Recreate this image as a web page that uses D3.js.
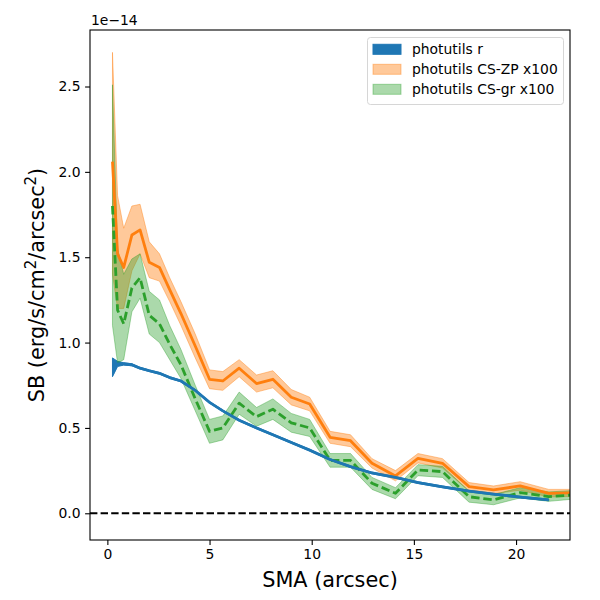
<!DOCTYPE html>
<html>
<head>
<meta charset="utf-8">
<script src="https://cdn.jsdelivr.net/npm/d3@7"></script>
<style>
  body { margin: 0; background: #fff; }
  svg { font-family: "DejaVu Sans", sans-serif; }
</style>
</head>
<body>
<svg id="chart"></svg>
<script>
//------------------------------------------------------------
// Data (SB in units of 1e-14)
const sma = [0.25, 0.5, 0.8, 1.2, 1.6, 2.05, 2.55, 3.05, 3.6, 4.3, 5.0, 5.65, 6.45, 7.3, 8.1, 9.0, 9.9,
  10.9, 11.9, 12.95, 14.1, 15.2, 16.4, 17.7, 18.9, 20.2, 21.6, 23.0];

const rLine = [0.86, 0.875, 0.875, 0.87, 0.85, 0.835, 0.82, 0.795, 0.775, 0.72, 0.65, 0.60, 0.545, 0.50, 0.46, 0.415, 0.37,
  0.315, 0.273, 0.236, 0.21, 0.18, 0.155, 0.13, 0.112, 0.095, 0.078];
const rLow = [0.80, 0.86, 0.868, 0.864, 0.845, 0.83, 0.815, 0.79, 0.77, 0.715, 0.645, 0.595, 0.54, 0.495, 0.455, 0.41, 0.365,
  0.31, 0.268, 0.231, 0.205, 0.175, 0.15, 0.125, 0.107, 0.09, 0.073];
const rHigh = [0.91, 0.89, 0.882, 0.876, 0.855, 0.84, 0.825, 0.80, 0.78, 0.725, 0.655, 0.605, 0.55, 0.505, 0.465, 0.42, 0.375,
  0.32, 0.278, 0.241, 0.215, 0.185, 0.16, 0.135, 0.117, 0.10, 0.083];

const zpLine = [2.06, 1.52, 1.44, 1.63, 1.66, 1.47, 1.44, 1.31, 1.17, 0.98, 0.785, 0.775, 0.85, 0.76, 0.785, 0.68, 0.64,
  0.445, 0.425, 0.293, 0.219, 0.322, 0.293, 0.156, 0.137, 0.16, 0.117, 0.12];
const zpLow = [1.40, 1.20, 1.20, 1.42, 1.52, 1.38, 1.36, 1.24, 1.10, 0.91, 0.73, 0.72, 0.80, 0.71, 0.735, 0.635, 0.60,
  0.41, 0.39, 0.265, 0.19, 0.295, 0.265, 0.13, 0.115, 0.135, 0.095, 0.10];
const zpHigh = [2.70, 1.86, 1.67, 1.80, 1.81, 1.59, 1.52, 1.38, 1.24, 1.05, 0.84, 0.83, 0.90, 0.81, 0.835, 0.725, 0.68,
  0.48, 0.46, 0.32, 0.25, 0.35, 0.32, 0.18, 0.16, 0.185, 0.14, 0.14];

const grLine = [1.80, 1.19, 1.11, 1.32, 1.38, 1.16, 1.11, 0.99, 0.87, 0.67, 0.48, 0.50, 0.645, 0.566, 0.61, 0.53, 0.50,
  0.31, 0.31, 0.176, 0.117, 0.254, 0.244, 0.097, 0.078, 0.121, 0.097, 0.11];
const grLow = [1.10, 0.88, 0.90, 1.18, 1.26, 1.05, 1.00, 0.90, 0.79, 0.60, 0.41, 0.43, 0.58, 0.51, 0.55, 0.475, 0.45,
  0.27, 0.27, 0.14, 0.085, 0.22, 0.21, 0.065, 0.05, 0.09, 0.07, 0.085];
const grHigh = [2.51, 1.55, 1.40, 1.49, 1.52, 1.30, 1.25, 1.10, 0.96, 0.75, 0.55, 0.57, 0.71, 0.62, 0.67, 0.585, 0.55,
  0.35, 0.35, 0.21, 0.15, 0.285, 0.275, 0.13, 0.11, 0.15, 0.125, 0.135];

const xTicks = [0, 5, 10, 15, 20];
const yTicks = [0.0, 0.5, 1.0, 1.5, 2.0, 2.5];

//------------------------------------------------------------
// Chart setup
const W = 600, H = 600;
const plot = { left: 90, right: 570, top: 30, bottom: 540 };

const svg = d3.select("#chart").attr("width", W).attr("height", H);

const x = d3.scaleLinear().domain([-0.85, 22.64]).range([plot.left, plot.right]);
const y = d3.scaleLinear().domain([-0.1565, 2.831]).range([plot.bottom, plot.top]);

svg.append("defs").append("clipPath").attr("id", "clip")
  .append("rect")
  .attr("x", plot.left).attr("y", plot.top)
  .attr("width", plot.right - plot.left).attr("height", plot.bottom - plot.top);

const g = svg.append("g").attr("clip-path", "url(#clip)");

function rows(line, low, high) {
  return line.map((v, i) => ({ x: sma[i], v, lo: low[i], hi: high[i] }));
}
const series = [
  { name: "photutils r", color: "#1f77b4", alpha: 1, dash: null, data: rows(rLine, rLow, rHigh) },
  { name: "photutils CS-ZP x100", color: "#ff7f0e", alpha: 0.42, dash: null, data: rows(zpLine, zpLow, zpHigh) },
  { name: "photutils CS-gr x100", color: "#2ca02c", alpha: 0.4, dash: "8.5 3.8", data: rows(grLine, grLow, grHigh) }
];

const area = d3.area().x(d => x(d.x)).y0(d => y(d.lo)).y1(d => y(d.hi));
const line = d3.line().x(d => x(d.x)).y(d => y(d.v));

// bands
series.forEach(s => {
  g.append("path").datum(s.data)
    .attr("d", area)
    .attr("fill", s.color)
    .attr("fill-opacity", s.alpha)
    .attr("stroke", s.color)
    .attr("stroke-opacity", s.alpha)
    .attr("stroke-width", 1);
});

// zero line
g.append("line")
  .attr("x1", plot.left).attr("x2", plot.right)
  .attr("y1", y(0)).attr("y2", y(0))
  .attr("stroke", "#000")
  .attr("stroke-width", 2)
  .attr("stroke-dasharray", "7.4 3.2");

// lines: orange, green, then blue
[series[1], series[2], series[0]].forEach(s => {
  g.append("path").datum(s.data)
    .attr("d", line)
    .attr("fill", "none")
    .attr("stroke", s.color)
    .attr("stroke-width", 2.8)
    .attr("stroke-linejoin", "round")
    .attr("stroke-dasharray", s.dash);
});

//------------------------------------------------------------
// Axes
const xAxis = svg.append("g")
  .attr("transform", `translate(0,${plot.bottom})`)
  .call(d3.axisBottom(x).tickValues(xTicks).tickSize(4.9).tickPadding(4.5).tickFormat(d3.format("d")));
const yAxis = svg.append("g")
  .attr("transform", `translate(${plot.left},0)`)
  .call(d3.axisLeft(y).tickValues(yTicks).tickSize(4.9).tickPadding(4.5).tickFormat(d3.format(".1f")));

[xAxis, yAxis].forEach(a => {
  a.select(".domain").remove();
  a.selectAll("line").attr("stroke", "#000").attr("stroke-width", 1.1);
  a.selectAll("text").attr("font-size", 13.9).attr("fill", "#000")
    .attr("font-family", "DejaVu Sans, sans-serif");
});

// frame
svg.append("rect")
  .attr("x", plot.left).attr("y", plot.top)
  .attr("width", plot.right - plot.left).attr("height", plot.bottom - plot.top)
  .attr("fill", "none").attr("stroke", "#000").attr("stroke-width", 1.1);

// offset text
svg.append("text")
  .attr("x", plot.left + 1).attr("y", 25)
  .attr("font-size", 13.9)
  .text("1e\u221214");

// labels
svg.append("text")
  .attr("x", (plot.left + plot.right) / 2)
  .attr("y", 587)
  .attr("text-anchor", "middle")
  .attr("font-size", 20.8)
  .text("SMA (arcsec)");

const yl = svg.append("text")
  .attr("transform", `translate(44,${(plot.top + plot.bottom) / 2}) rotate(-90)`)
  .attr("text-anchor", "middle")
  .attr("font-size", 20.8);
yl.append("tspan").text("SB (erg/s/cm");
yl.append("tspan").attr("font-size", 15).attr("dy", -8).text("2");
yl.append("tspan").attr("dy", 8).text("/arcsec");
yl.append("tspan").attr("font-size", 15).attr("dy", -8).text("2");
yl.append("tspan").attr("dy", 8).text(")");

//------------------------------------------------------------
// Legend
const leg = svg.append("g");
leg.append("rect")
  .attr("x", 367.5).attr("y", 37.5)
  .attr("width", 196).attr("height", 67)
  .attr("rx", 3)
  .attr("fill", "#fff").attr("fill-opacity", 0.8)
  .attr("stroke", "#d6d6d6").attr("stroke-width", 1);

series.forEach((s, i) => {
  const cy = 49.3 + i * 20;
  leg.append("rect")
    .attr("x", 373).attr("y", cy - 5)
    .attr("width", 28).attr("height", 10)
    .attr("fill", s.color).attr("fill-opacity", s.alpha)
    .attr("stroke", s.color).attr("stroke-opacity", s.alpha);
  leg.append("text")
    .attr("x", 412).attr("y", cy + 5)
    .attr("font-size", 13.9)
    .text(s.name);
});
</script>
</body>
</html>
